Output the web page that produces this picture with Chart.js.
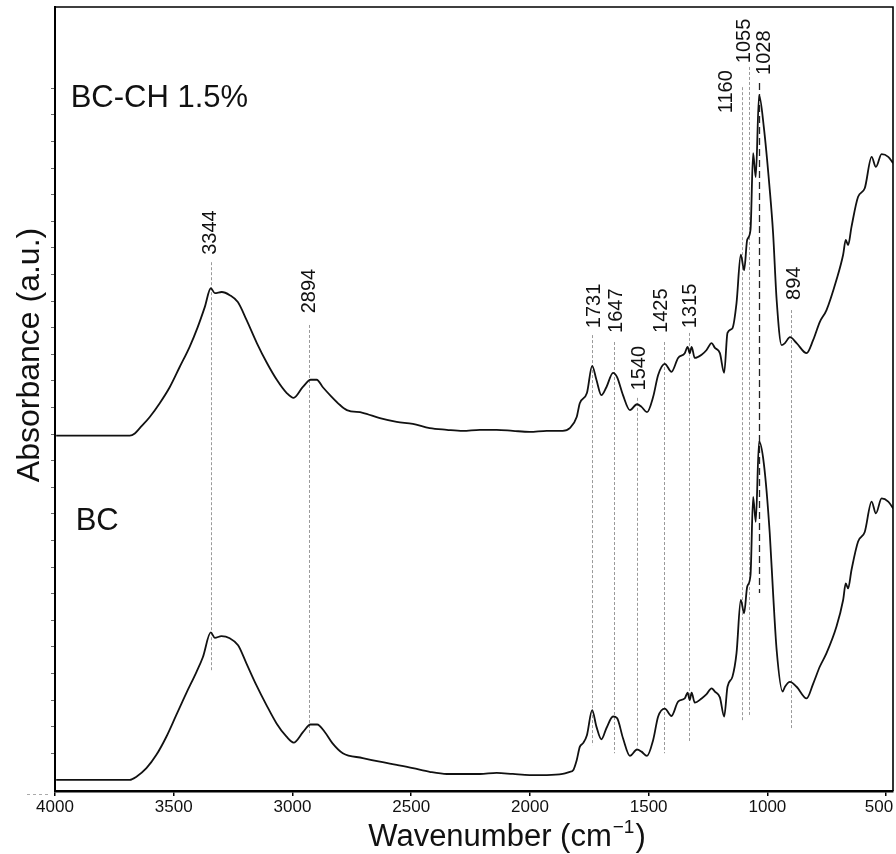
<!DOCTYPE html>
<html lang="en">
<head>
<meta charset="UTF-8">
<title>FTIR - BC / BC-CH 1.5%</title>
<script src="https://cdn.jsdelivr.net/npm/chart.js@4.4.1/dist/chart.umd.min.js"></script>
<style>
  html, body { margin: 0; padding: 0; background: #fff; }
  #wrap { width: 896px; height: 854px; }
</style>
</head>
<body>
<div id="wrap"><canvas id="ftir" width="896" height="854"></canvas></div>

<script>
// spectra: wavenumber (cm-1) and absorbance (a.u., stacked offsets)
const bcchWn = [3995, 3812, 3685, 3664, 3643, 3601, 3559, 3517, 3475, 3433,
  3399, 3369, 3344, 3327, 3298, 3264, 3230, 3193, 3150, 3108,
  3066, 3024, 2995, 2957, 2923, 2898, 2872, 2835, 2801, 2771,
  2704, 2632, 2561, 2493, 2422, 2350, 2283, 2211, 2140, 2072,
  2001, 1929, 1862, 1832, 1803, 1790, 1760, 1738, 1720, 1699,
  1678, 1650, 1633, 1608, 1579, 1549, 1530, 1507, 1481, 1460,
  1432, 1404, 1376, 1348, 1336, 1327, 1319, 1306, 1277, 1256,
  1235, 1221, 1200, 1182, 1168, 1147, 1130, 1112, 1098, 1085,
  1071, 1060, 1049, 1035, 1015, 990, 976, 961, 940, 926,
  905, 877, 835, 807, 779, 751, 709, 681, 670, 660,
  646, 618, 590, 561, 543, 519, 491, 470];
const bcchAbs = [0.668, 0.668, 0.668, 0.672, 0.682, 0.703, 0.729, 0.759, 0.797, 0.835,
  0.872, 0.910, 0.945, 0.936, 0.938, 0.932, 0.919, 0.885, 0.842, 0.805,
  0.773, 0.748, 0.739, 0.759, 0.773, 0.773, 0.759, 0.741, 0.726, 0.716,
  0.711, 0.701, 0.694, 0.690, 0.682, 0.679, 0.677, 0.679, 0.679, 0.677,
  0.675, 0.677, 0.677, 0.682, 0.703, 0.729, 0.748, 0.799, 0.773, 0.744,
  0.759, 0.786, 0.778, 0.744, 0.716, 0.727, 0.722, 0.712, 0.741, 0.782,
  0.803, 0.788, 0.814, 0.823, 0.835, 0.823, 0.835, 0.814, 0.820, 0.829,
  0.842, 0.833, 0.823, 0.786, 0.861, 0.870, 0.917, 1.008, 0.979, 1.036,
  1.055, 1.199, 1.154, 1.308, 1.248, 1.130, 1.049, 0.923, 0.838, 0.842,
  0.853, 0.842, 0.823, 0.848, 0.882, 0.904, 0.961, 1.008, 1.036, 1.026,
  1.060, 1.117, 1.133, 1.192, 1.173, 1.197, 1.192, 1.180];

const bcWn = [3995, 3812, 3685, 3657, 3615, 3573, 3531, 3489, 3447, 3404,
  3377, 3344, 3327, 3299, 3264, 3229, 3194, 3152, 3110, 3067,
  3025, 2995, 2955, 2924, 2896, 2864, 2832, 2788, 2704, 2632,
  2561, 2493, 2422, 2350, 2283, 2211, 2140, 2072, 2001, 1929,
  1862, 1832, 1818, 1803, 1790, 1776, 1760, 1738, 1720, 1699,
  1678, 1650, 1633, 1608, 1579, 1549, 1530, 1507, 1481, 1460,
  1432, 1404, 1376, 1348, 1336, 1327, 1319, 1306, 1277, 1256,
  1235, 1221, 1200, 1182, 1168, 1147, 1130, 1112, 1098, 1085,
  1071, 1060, 1049, 1035, 1015, 990, 976, 961, 936, 926,
  905, 877, 835, 807, 779, 751, 709, 681, 670, 660,
  646, 618, 590, 561, 543, 519, 491, 470];
const bcAbs = [0.021, 0.021, 0.021, 0.027, 0.043, 0.068, 0.102, 0.143, 0.184, 0.224,
  0.252, 0.298, 0.288, 0.291, 0.287, 0.274, 0.240, 0.199, 0.162, 0.127,
  0.102, 0.091, 0.111, 0.125, 0.125, 0.111, 0.090, 0.071, 0.062, 0.055,
  0.049, 0.043, 0.036, 0.032, 0.032, 0.032, 0.034, 0.032, 0.030, 0.030,
  0.032, 0.036, 0.039, 0.058, 0.083, 0.090, 0.105, 0.152, 0.121, 0.097,
  0.118, 0.140, 0.137, 0.099, 0.066, 0.078, 0.074, 0.066, 0.096, 0.140,
  0.155, 0.141, 0.168, 0.174, 0.185, 0.171, 0.185, 0.166, 0.174, 0.182,
  0.193, 0.187, 0.176, 0.140, 0.196, 0.215, 0.259, 0.359, 0.334, 0.384,
  0.406, 0.553, 0.506, 0.657, 0.616, 0.484, 0.372, 0.265, 0.187, 0.196,
  0.205, 0.196, 0.174, 0.202, 0.234, 0.259, 0.309, 0.359, 0.390, 0.381,
  0.415, 0.469, 0.487, 0.544, 0.522, 0.550, 0.544, 0.531];

const sampleNames = ['BC-CH 1.5%', 'BC'];
const xTicks = [4000, 3500, 3000, 2500, 2000, 1500, 1000, 500];
// unlabelled minor ticks on the absorbance axis
const yTicks = [0.071, 0.121, 0.171, 0.221, 0.271, 0.321, 0.371, 0.421, 0.471, 0.521,
  0.571, 0.621, 0.671, 0.721, 0.771, 0.821, 0.871, 0.921, 0.971, 1.021,
  1.071, 1.121, 1.171, 1.221, 1.271, 1.321];
const peakLabels = ['3344', '2894', '1731', '1647', '1540', '1425', '1315', '1160', '1055', '1028', '894'];

// where each peak marker sits (axis units) - line x, line top/bottom, label x, label start
const peakMarks = [
  { x: 3344, top: 0.994, bot: 0.224, lx: 3344, ly: 1.008 },
  { x: 2929, top: 0.876, bot: 0.105, lx: 2927, ly: 0.898 },
  { x: 1739, top: 0.857, bot: 0.086, lx: 1727, ly: 0.870 },
  { x: 1645, top: 0.844, bot: 0.071, lx: 1634, ly: 0.861 },
  { x: 1547, top: 0.739, bot: 0.081, lx: 1538, ly: 0.753 },
  { x: 1436, top: 0.844, bot: 0.071, lx: 1444, ly: 0.861 },
  { x: 1331, top: 0.861, bot: 0.092, lx: 1322, ly: 0.870 },
  { x: 1108, top: 1.323, bot: 0.133, lx: 1171, ly: 1.274 },
  { x: 1078, top: 1.361, bot: 0.143, lx: 1095, ly: 1.368 },
  { x: 1036, top: 1.331, bot: 0.372, lx: 1011, ly: 1.346, dark: true },
  { x: 901,  top: 0.904, bot: 0.118, lx: 885,  ly: 0.923 }
];
const namePos = [{ x: 3934, y: 1.286 }, { x: 3913, y: 0.491 }];

const FONT = '"Liberation Sans", Arial, sans-serif';

const decorations = {
  id: 'decorations',
  beforeDatasetsDraw(chart) {
    const { ctx, scales: { x, y } } = chart;
    ctx.save();
    peakMarks.forEach(p => {
      const px = Math.round(x.getPixelForValue(p.x)) + 0.5;
      ctx.beginPath();
      ctx.setLineDash(p.dark ? [7, 4] : [3, 2]);
      ctx.strokeStyle = p.dark ? '#222' : '#9a9a9a';
      ctx.lineWidth = p.dark ? 1.3 : 1;
      ctx.moveTo(px, y.getPixelForValue(p.top));
      ctx.lineTo(px, y.getPixelForValue(p.bot));
      ctx.stroke();
    });
    ctx.restore();
  },
  afterDraw(chart) {
    const { ctx, chartArea: a, scales: { x, y } } = chart;
    ctx.save();

    // top / right frame
    ctx.strokeStyle = '#000';
    ctx.lineWidth = 1.6;
    ctx.beginPath();
    ctx.moveTo(a.left, a.top);
    ctx.lineTo(a.right, a.top);
    ctx.lineTo(a.right, a.bottom);
    ctx.stroke();

    // small scan artefact left of the origin
    ctx.setLineDash([3, 3]);
    ctx.strokeStyle = '#aaa';
    ctx.lineWidth = 1;
    ctx.beginPath();
    ctx.moveTo(27, a.bottom + 3.5);
    ctx.lineTo(49, a.bottom + 3.5);
    ctx.stroke();
    ctx.setLineDash([]);

    // peak labels
    ctx.fillStyle = '#111';
    ctx.font = '20px ' + FONT;
    ctx.textAlign = 'left';
    ctx.textBaseline = 'middle';
    peakMarks.forEach((p, i) => {
      ctx.save();
      ctx.translate(x.getPixelForValue(p.lx), y.getPixelForValue(p.ly));
      ctx.rotate(-Math.PI / 2);
      ctx.fillText(peakLabels[i], 0, 0);
      ctx.restore();
    });

    // sample names
    ctx.font = '31px ' + FONT;
    ctx.textBaseline = 'alphabetic';
    sampleNames.forEach((n, i) => {
      ctx.fillText(n, x.getPixelForValue(namePos[i].x), y.getPixelForValue(namePos[i].y));
    });

    // axis titles
    ctx.save();
    ctx.translate(30, 355);
    ctx.rotate(-Math.PI / 2);
    ctx.textAlign = 'center';
    ctx.textBaseline = 'middle';
    ctx.font = '32px ' + FONT;
    ctx.fillText('Absorbance (a.u.)', 0, 0);
    ctx.restore();

    ctx.font = '31px ' + FONT;
    const main = 'Wavenumber (cm';
    const sup = '\u22121';
    const wMain = ctx.measureText(main).width;
    ctx.font = '19px ' + FONT;
    const wSup = ctx.measureText(sup).width;
    ctx.font = '31px ' + FONT;
    const wEnd = ctx.measureText(')').width;
    let tx = 507 - (wMain + wSup + wEnd + 2) / 2;
    const base = 846;
    ctx.textAlign = 'left';
    ctx.fillText(main, tx, base);
    tx += wMain + 1;
    ctx.font = '19px ' + FONT;
    ctx.fillText(sup, tx, base - 13);
    tx += wSup + 1;
    ctx.font = '31px ' + FONT;
    ctx.fillText(')', tx, base);

    ctx.restore();
  }
};

const lineStyle = {
  borderColor: '#111',
  borderWidth: 1.8,
  pointRadius: 0,
  fill: false,
  cubicInterpolationMode: 'monotone'
};

new Chart(document.getElementById('ftir'), {
  type: 'line',
  data: {
    datasets: [
      Object.assign({ label: sampleNames[0], data: bcchWn.map((w, i) => ({ x: w, y: bcchAbs[i] })) }, lineStyle),
      Object.assign({ label: sampleNames[1], data: bcWn.map((w, i) => ({ x: w, y: bcAbs[i] })) }, lineStyle)
    ]
  },
  options: {
    responsive: false,
    animation: false,
    layout: { padding: { top: 7, right: 3, left: 0, bottom: 0 } },
    plugins: { legend: { display: false }, tooltip: { enabled: false } },
    scales: {
      x: {
        type: 'linear',
        reverse: true,
        min: 471,
        max: 4000,
        afterBuildTicks: s => { s.ticks = xTicks.map(v => ({ value: v })); },
        afterFit: s => { s.height = 63; s.paddingLeft = 0; s.paddingRight = 0; },
        grid: { drawOnChartArea: false, drawTicks: true, tickLength: 5, color: '#000', lineWidth: 1.5 },
        border: { color: '#000', width: 2.5 },
        ticks: {
          color: '#111',
          font: { family: FONT, size: 17 },
          padding: 1,
          maxRotation: 0,
          autoSkip: false,
          // last label sits inside the right edge in the original
          callback: v => v === 500 ? '500   ' : String(v)
        }
      },
      y: {
        min: 0,
        max: 1.4737,
        afterBuildTicks: s => { s.ticks = yTicks.map(v => ({ value: v })); },
        afterFit: s => { s.width = 55; },
        grid: { drawOnChartArea: false, drawTicks: true, tickLength: 4, color: '#666', lineWidth: 1 },
        border: { color: '#000', width: 2 },
        ticks: { display: false }
      }
    }
  },
  plugins: [decorations]
});
</script>
</body>
</html>
